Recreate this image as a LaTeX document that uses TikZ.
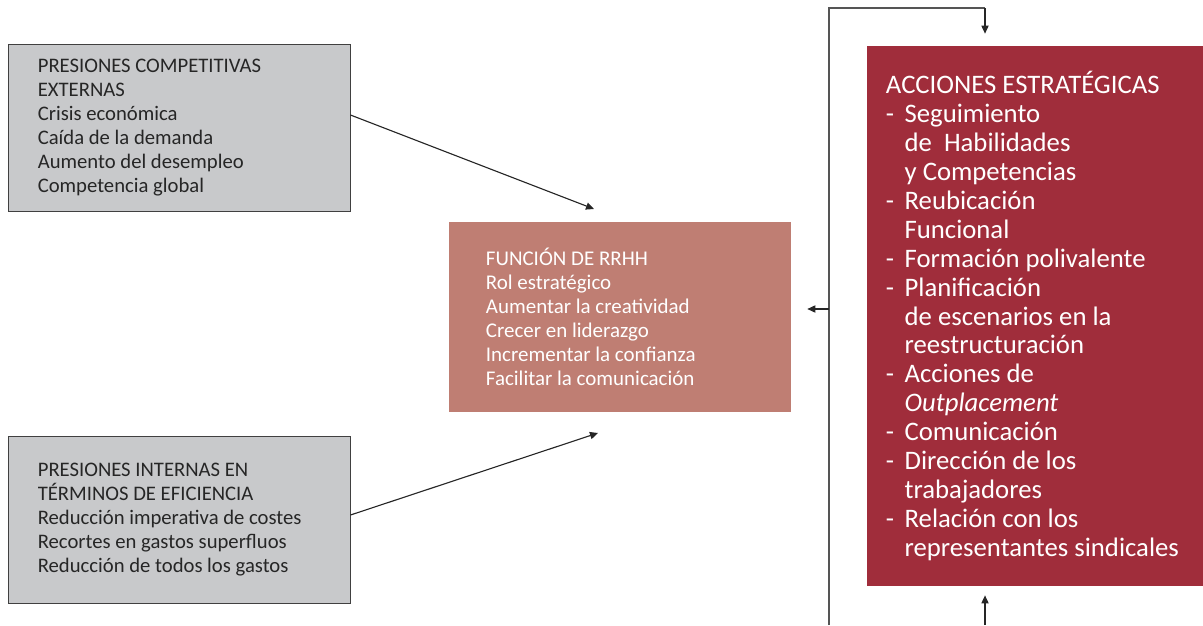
\documentclass[tikz,border=0pt]{standalone}
\usepackage{fontspec}
\setmainfont{Carlito}
\usetikzlibrary{arrows.meta,calc}

\definecolor{boxgray}{HTML}{C8C9CB}
\definecolor{rrhhcol}{HTML}{BF7E73}
\definecolor{accioncol}{HTML}{A02D3B}
\definecolor{loopgray}{HTML}{555555}
\newcommand{\sangria}{\hphantom{-\ \,}}

\begin{document}
\begin{tikzpicture}[x=0.025cm, y=-0.025cm,
  presion/.style={draw=black!75, line width=0.6pt, fill=boxgray,
    minimum width=8.55cm, minimum height=4.175cm, inner sep=0pt},
  rrhh/.style={fill=rrhhcol, minimum width=8.55cm, minimum height=4.75cm, inner sep=0pt},
  accion/.style={fill=accioncol, minimum width=8.4cm, minimum height=13.5cm, inner sep=0pt},
  txtgray/.style={anchor=west, align=left, inner sep=0pt, text=black!85,
    font=\fontsize{14.7}{17}\selectfont},
  txtwhite/.style={anchor=west, align=left, inner sep=0pt, text=white,
    font=\fontsize{14.9}{17}\selectfont},
  txtbig/.style={anchor=west, align=left, inner sep=0pt, text=white,
    font=\fontsize{19}{20.6}\selectfont},
  flecha/.style={-{Triangle[length=0.2cm,width=0.18cm]}, line width=0.8pt, black!85},
  lazo/.style={line width=1pt, loopgray}]
  \useasboundingbox (0,0) rectangle (1203,625);

  \node[presion] (ext) at (179,127.5) {};
  \node[txtgray] (exttxt) at ($(ext.west)+(30,0)$) {PRESIONES COMPETITIVAS\\EXTERNAS\\Crisis económica\\Caída de la demanda\\Aumento del desempleo\\Competencia global};

  \node[presion] (int) at (179,519.5) {};
  \node[txtgray] (inttxt) at ($(int.west)+(30,0)$) {PRESIONES INTERNAS EN\\TÉRMINOS DE EFICIENCIA\\Reducción imperativa de costes\\Recortes en gastos superfluos\\Reducción de todos los gastos};

  \node[rrhh] (fun) at (620,317) {};
  \node[txtwhite] (funtxt) at ($(fun.west)+(37,0)$) {FUNCIÓN DE RRHH\\Rol estratégico\\Aumentar la creatividad\\Crecer en liderazgo\\Incrementar la confianza\\Facilitar la comunicación};

  \node[accion] (acc) at (1035,316) {};
  \node[txtbig] (acctxt) at ($(acc.west)+(19,0)$) {ACCIONES ESTRATÉGICAS\\
    -\ \,Seguimiento\\\sangria de\ \ Habilidades\\\sangria y Competencias\\
    -\ \,Reubicación\\\sangria Funcional\\
    -\ \,Formación polivalente\\
    -\ \,Planificación\\\sangria de escenarios en la\\\sangria reestructuración\\
    -\ \,Acciones de\\\sangria \textit{Outplacement}\\
    -\ \,Comunicación\\
    -\ \,Dirección de los\\\sangria trabajadores\\
    -\ \,Relación con los\\\sangria representantes sindicales};

  % entradas a la funcion de RRHH
  \coordinate (in1) at (594,209);
  \coordinate (in2) at (598,433);
  \draw[flecha] ($(ext.east)+(0,-12.5)$) -- (in1);
  \draw[flecha] ($(int.east)+(0,-4.5)$) -- (in2);

  % retroalimentacion
  \coordinate (fb) at (829,625);
  \coordinate (fbtop) at (985,8);
  \coordinate (fbmid) at (829,309);
  \coordinate (fbin) at (985,625);
  \draw[lazo] (fb) |- (fbtop);
  \draw[flecha, shorten >=0.3cm] (fbtop) -- (fbtop |- acc.north);
  \draw[flecha, shorten >=0.4cm] (fbmid) -- (fbmid -| fun.east);
  \draw[flecha, shorten >=0.225cm] (fbin) -- (fbin |- acc.south);
\end{tikzpicture}
\end{document}
